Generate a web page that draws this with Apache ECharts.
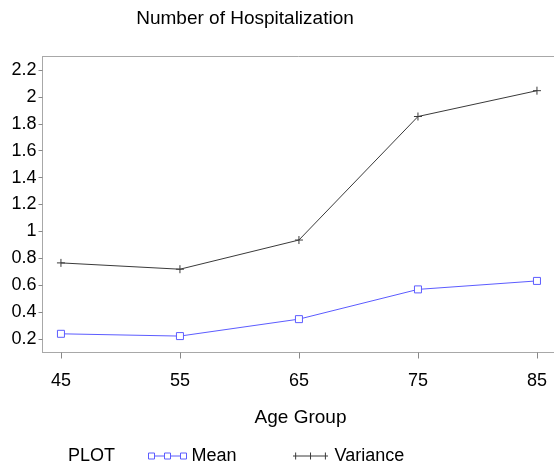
<!DOCTYPE html>
<html>
<head>
<meta charset="utf-8">
<script src="https://cdn.jsdelivr.net/npm/echarts@6/dist/echarts.min.js"></script>
<style>html,body{margin:0;padding:0;background:#fff;}#c{width:554px;height:462px;}</style>
</head>
<body>
<div id="c"></div>
<script>
const ageGroups = [45, 55, 65, 75, 85];
const meanValues = [0.239, 0.222, 0.348, 0.569, 0.632];
const varianceValues = [0.766, 0.719, 0.936, 1.854, 2.046];
const yTicks = [0.2, 0.4, 0.6, 0.8, 1, 1.2, 1.4, 1.6, 1.8, 2, 2.2];
const xTicks = [45, 55, 65, 75, 85];

const FONT = '"Liberation Sans", Arial, Helvetica, sans-serif';
const frameColor = '#a8a8a8';
const meanColor = '#5c5cff';
const varColor = '#3a3a3a';

const chart = echarts.init(document.getElementById('c'), null, {renderer: 'canvas'});
chart.setOption({
  animation: false,
  backgroundColor: '#fff',
  title: {
    text: 'Number of Hospitalization',
    left: 245, top: 9, textAlign: 'center', padding: 0,
    textStyle: {fontFamily: FONT, fontSize: 19, fontWeight: 'normal', color: '#000'}
  },
  grid: {
    left: 42.5, top: 56.5, width: 516, height: 296,
    outerBoundsMode: 'none', containLabel: false,
    show: true, borderColor: frameColor, borderWidth: 1, backgroundColor: 'transparent'
  },
  xAxis: {
    type: 'value', min: 43.45, max: 86.81,
    name: 'Age Group', nameLocation: 'middle', nameGap: 56,
    nameTextStyle: {fontFamily: FONT, fontSize: 19, color: '#000'},
    axisLine: {show: true, lineStyle: {color: frameColor, width: 1}},
    axisTick: {show: true, length: 6, lineStyle: {color: '#888'}, customValues: xTicks},
    axisLabel: {customValues: xTicks, fontFamily: FONT, fontSize: 18, color: '#000', margin: 20},
    splitLine: {show: false}
  },
  yAxis: {
    type: 'value', min: 0.1, max: 2.3,
    axisLine: {show: true, lineStyle: {color: frameColor, width: 1}},
    axisTick: {show: true, length: 4, lineStyle: {color: '#888'}, customValues: yTicks},
    axisLabel: {customValues: yTicks, fontFamily: FONT, fontSize: 18, color: '#000', margin: 6},
    splitLine: {show: false}
  },
  legend: {
    left: 146, top: 447, padding: 0, itemGap: 54, itemWidth: 38, itemHeight: 7,
    textStyle: {fontFamily: FONT, fontSize: 18, color: '#000'},
    data: [
      {name: 'Mean', icon: 'path://M0,0h6v6h-6z M16,0h6v6h-6z M32,0h6v6h-6z M6,3h10 M22,3h10',
       itemStyle: {color: 'none', borderColor: meanColor, borderWidth: 1}},
      {name: 'Variance', icon: 'path://M0,4h40 M3,0v8 M20,0v8 M37,0v8',
       itemStyle: {color: 'none', borderColor: varColor, borderWidth: 1}}
    ]
  },
  graphic: [
    {type: 'text', left: 68, top: 447, style: {text: 'PLOT', font: '18px ' + FONT, fill: '#000'}}
  ],
  series: [
    {
      name: 'Mean', type: 'line',
      data: ageGroups.map((a, i) => [a, meanValues[i]]),
      symbol: 'rect', symbolSize: 7,
      lineStyle: {color: meanColor, width: 1},
      itemStyle: {color: '#fff', borderColor: meanColor, borderWidth: 1},
      emphasis: {disabled: true}
    },
    {
      name: 'Variance', type: 'line',
      data: ageGroups.map((a, i) => [a, varianceValues[i]]),
      symbol: 'path://M0,5H10M5,0V10', symbolSize: 8,
      lineStyle: {color: varColor, width: 1},
      itemStyle: {color: 'none', borderColor: varColor, borderWidth: 1},
      emphasis: {disabled: true}
    }
  ]
});
</script>
</body>
</html>
